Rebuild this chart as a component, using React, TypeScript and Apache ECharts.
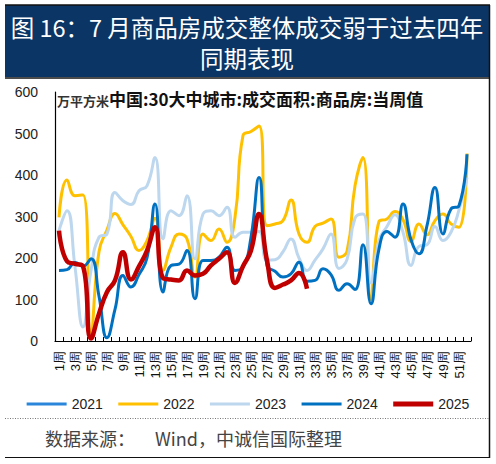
import React, { useEffect, useRef } from "react";
import * as echarts from "echarts";

const weeks = [
  "1周", "2周", "3周", "4周", "5周", "6周", "7周", "8周", "9周", "10周",
  "11周", "12周", "13周", "14周", "15周", "16周", "17周", "18周", "19周", "20周",
  "21周", "22周", "23周", "24周", "25周", "26周", "27周", "28周", "29周", "30周",
  "31周", "32周", "33周", "34周", "35周", "36周", "37周", "38周", "39周", "40周",
  "41周", "42周", "43周", "44周", "45周", "46周", "47周", "48周", "49周", "50周",
  "51周", "52周",
];

const y2021: (number | null)[] = [];

const y2022 = [
  298, 388, 350, 352, 20, 215, 268, 307, 280, 252,
  218, 242, 296, 170, 226, 258, 246, 154, 258, 242,
  270, 238, 298, 495, 505, 518, 278, 282, 290, 340,
  258, 238, 276, 284, 294, 202, 216, 374, 442, 100,
  288, 294, 312, 292, 240, 282, 256, 290, 306, 282,
  274, 452,
];

const y2023 = [
  266, 314, 178, 34, 170, 250, 258, 358, 338, 329,
  362, 374, 442, 246, 314, 302, 350, 198, 306, 314,
  302, 322, 250, 262, 262, 264, 195, 196, 215, 246,
  200, 170, 195, 222, 258, 175, 196, 296, 306, 140,
  242, 276, 304, 262, 182, 228, 232, 276, 242, 262,
  316, 394,
];

const y2024 = [
  170, 172, 189, 180, 198, 108, 8, 76, 158, 130,
  160, 200, 330, 118, 182, 185, 218, 102, 194, 194,
  202, 226, 170, 178, 250, 394, 182, 168, 154, 162,
  190, 144, 146, 174, 160, 122, 138, 124, 232, 90,
  222, 264, 250, 330, 244, 210, 278, 370, 258, 318,
  326, 450,
];

const y2025 = [
  266, 192, 186, 180, 6, 66, 118, 146, 214, 148,
  180, 218, 274, 152, 148, 146, 170, 158, 162, 182,
  198, 214, 140, 180, 218, 306, 194, 128, 136, 146,
  164, 126,
];

const yTicks = { min: 0, max: 600, interval: 100 };

const thinIcon = "path://M0,0h0.01v0.01h-0.01Z M0,1h40v3h-40Z M39.99,4.99h0.01v0.01h-0.01Z";
const thickIcon = "path://M0,0h40v5h-40Z";

const seriesDefs = [
  { name: "2021", data: y2021, color: "#2a86da", width: 3, icon: thinIcon },
  { name: "2022", data: y2022, color: "#FFC000", width: 3, icon: thinIcon },
  { name: "2023", data: y2023, color: "#BDD7EE", width: 3, icon: thinIcon },
  { name: "2024", data: y2024, color: "#0070C0", width: 3, icon: thinIcon },
  { name: "2025", data: y2025, color: "#C00000", width: 4.5, icon: thickIcon },
];

export default function App() {
  const ref = useRef<HTMLDivElement>(null);
  useEffect(() => {
    if (!ref.current) return;
    const chart = echarts.init(ref.current, null, { renderer: "svg" });
    const cjk = "'Noto Sans CJK SC', sans-serif";
    const latin = "'Liberation Sans', Arial, sans-serif";
    chart.setOption({
      animation: false,
      backgroundColor: "#ffffff",
      title: {
        text: "{a|万平方米}{b|中国:30大中城市:成交面积:商品房:当周值}",
        left: 57,
        top: 90,
        padding: 0,
        textStyle: {
          rich: {
            a: { fontSize: 13, fontFamily: cjk, color: "#333", verticalAlign: "bottom", padding: [4, 0, 0, 0] },
            b: { fontSize: 17, fontFamily: cjk, fontWeight: "bold", color: "#111" },
          },
        },
      },
      legend: {
        top: 392,
        left: "center",
        itemWidth: 40,
        itemHeight: 5,
        itemGap: 15.5,
        textStyle: { fontSize: 14, fontFamily: latin, color: "#222" },
        data: seriesDefs.map((s) => ({ name: s.name, icon: s.icon })),
      },
      grid: { left: 55, top: 92, right: 25, bottom: 123, containLabel: false },
      xAxis: {
        type: "category",
        data: weeks,
        boundaryGap: true,
        axisLine: { lineStyle: { color: "#000", width: 1.2 } },
        axisTick: { show: true, inside: true, length: 4, interval: 0, lineStyle: { color: "#000" } },
        axisLabel: {
          interval: 1,
          rotate: 90,
          fontSize: 13,
          fontFamily: latin,
          color: "#111",
          margin: 10,
        },
        splitLine: { show: false },
      },
      yAxis: {
        type: "value",
        min: yTicks.min,
        max: yTicks.max,
        interval: yTicks.interval,
        axisLine: { show: true, lineStyle: { color: "#000", width: 1.2 } },
        axisTick: { show: false },
        splitLine: { show: false },
        axisLabel: { fontSize: 14, fontFamily: latin, color: "#222", margin: 17 },
      },
      series: seriesDefs.map((s) => ({
        name: s.name,
        type: "line",
        data: s.data,
        smooth: true,
        symbol: "none",
        showSymbol: false,
        color: s.color,
        lineStyle: { color: s.color, width: s.width },
        itemStyle: { color: s.color },
      })),
      graphic: [
        { type: "rect", shape: { x: 5, y: 5, width: 484, height: 72 }, style: { fill: "#0b3565" }, z: 10 },
        { type: "line", shape: { x1: 5, y1: 5, x2: 490, y2: 5 }, style: { stroke: "#111", lineWidth: 1.5 }, z: 11 },
        { type: "line", shape: { x1: 5, y1: 78, x2: 490, y2: 78 }, style: { stroke: "#111", lineWidth: 1.5 }, z: 11 },
        { type: "line", shape: { x1: 489.5, y1: 5, x2: 489.5, y2: 458 }, style: { stroke: "#111", lineWidth: 1.5 }, z: 11 },
        { type: "line", shape: { x1: 5, y1: 457.5, x2: 490, y2: 457.5 }, style: { stroke: "#111", lineWidth: 1.2 }, z: 11 },
        { type: "line", shape: { x1: 5, y1: 418.5, x2: 489, y2: 418.5 }, style: { stroke: "#777", lineWidth: 1, lineDash: [1, 1.5] }, z: 11 },
        {
          type: "text",
          x: 247,
          y: 27,
          z: 12,
          style: { text: "图 16：7 月商品房成交整体成交弱于过去四年", fontSize: 23.5, fontFamily: cjk, fill: "#ffffff", align: "center", verticalAlign: "middle" },
        },
        {
          type: "text",
          x: 247,
          y: 58,
          z: 12,
          style: { text: "同期表现", fontSize: 23.5, fontFamily: cjk, fill: "#ffffff", align: "center", verticalAlign: "middle" },
        },
        {
          type: "text",
          x: 45,
          y: 438,
          z: 12,
          style: { text: "数据来源：", fontSize: 18, fontFamily: cjk, fill: "#444", align: "left", verticalAlign: "middle" },
        },
        {
          type: "text",
          x: 155,
          y: 438,
          z: 12,
          style: { text: "Wind，中诚信国际整理", fontSize: 18, fontFamily: cjk, fill: "#444", align: "left", verticalAlign: "middle" },
        },
      ],
    });
    return () => chart.dispose();
  }, []);
  return (
    <div
      ref={ref}
      style={{ position: "absolute", left: 0, top: 0, width: 496, height: 464, background: "#fff" }}
    />
  );
}
